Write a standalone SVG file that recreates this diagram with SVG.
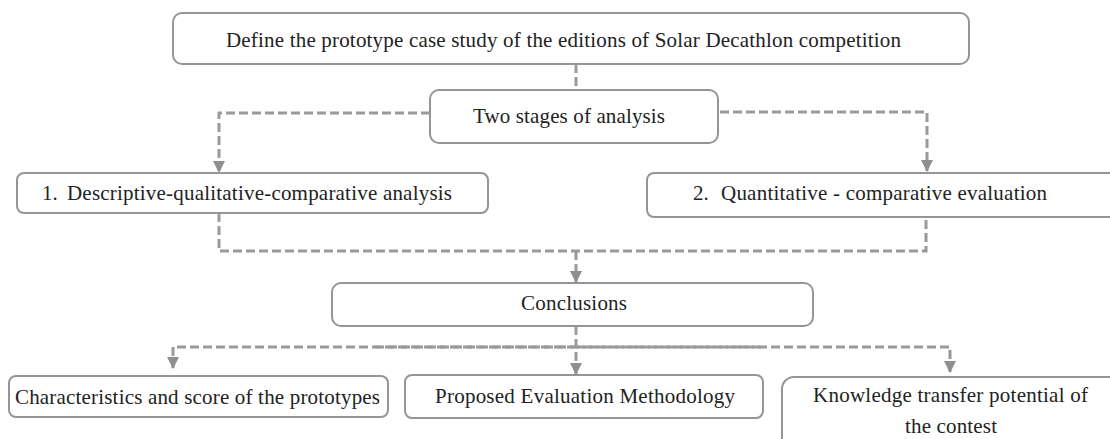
<svg xmlns="http://www.w3.org/2000/svg" width="1110" height="439" viewBox="0 0 1110 439">
<style>
.box{fill:#fff;stroke:#959595;stroke-width:2}
.t{font-family:"Liberation Serif","Times New Roman",serif;font-size:21px;fill:#222}
.c{fill:none;stroke:#9a9a9a;stroke-width:3;stroke-dasharray:9 4}
</style>
<defs>
<marker id="ah" markerUnits="userSpaceOnUse" markerWidth="12" markerHeight="12" refX="10" refY="5.5" orient="auto" viewBox="0 0 11 11">
<path d="M0,0 L11,5.5 L0,11 z" fill="#8f8f8f"/>
</marker>
</defs>
<rect width="1110" height="439" fill="#fff"/>
<g id="connectors">
<path class="c" d="M576,64 V90" stroke-dasharray="14 4"/>
<path class="c" d="M430,113 H219 V172" marker-end="url(#ah)"/>
<path class="c" d="M720,112 H927 V171" marker-end="url(#ah)"/>
<path class="c" d="M219,213 V251 H926 V217"/>
<path class="c" d="M576,251 V282" marker-end="url(#ah)"/>
<path class="c" d="M576,326 V374" marker-end="url(#ah)"/>
<path class="c" d="M576,347 H173 V368" marker-end="url(#ah)"/>
<path class="c" d="M576,347 H950 V372" marker-end="url(#ah)"/>
<path class="c" d="M375,347 H762" stroke-width="4"/>
</g>
<g id="node-define">
<rect class="box" x="173" y="13" width="796" height="51" rx="9"/>
<text class="t" x="226" y="47" textLength="675" lengthAdjust="spacing">Define the prototype case study of the editions of Solar Decathlon competition</text>
</g>
<g id="node-two-stages">
<rect class="box" x="430" y="90" width="288" height="53" rx="9"/>
<text class="t" x="473" y="123" textLength="192" lengthAdjust="spacing">Two stages of analysis</text>
</g>
<g id="node-descriptive">
<rect class="box" x="17" y="173" width="471" height="40" rx="7"/>
<text class="t" y="200"><tspan x="42">1.</tspan><tspan x="67" textLength="385" lengthAdjust="spacing">Descriptive-qualitative-comparative analysis</tspan></text>
</g>
<g id="node-quantitative">
<rect class="box" x="647" y="173" width="480" height="44" rx="7"/>
<text class="t" y="200"><tspan x="693">2.</tspan><tspan x="721" textLength="326" lengthAdjust="spacing">Quantitative - comparative evaluation</tspan></text>
</g>
<g id="node-conclusions">
<rect class="box" x="332" y="283" width="481" height="43" rx="9"/>
<text class="t" x="521" y="310" textLength="106" lengthAdjust="spacing">Conclusions</text>
</g>
<g id="node-characteristics">
<rect class="box" x="9" y="376" width="379" height="41" rx="7"/>
<text class="t" x="15" y="404" textLength="365" lengthAdjust="spacing">Characteristics and score of the prototypes</text>
</g>
<g id="node-proposed">
<rect class="box" x="405" y="375" width="358" height="43" rx="7"/>
<text class="t" x="435" y="403" textLength="300" lengthAdjust="spacing">Proposed Evaluation Methodology</text>
</g>
<g id="node-knowledge">
<rect class="box" x="782" y="377" width="360" height="100" rx="12"/>
<text class="t" x="813" y="402" textLength="275" lengthAdjust="spacing">Knowledge transfer potential of</text>
<text class="t" x="905" y="433" textLength="92" lengthAdjust="spacing">the contest</text>
</g>
</svg>
